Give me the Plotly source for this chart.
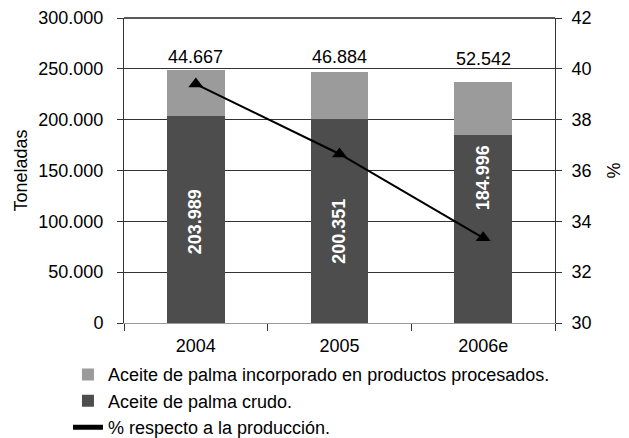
import plotly.graph_objects as go

years = ["2004", "2005", "2006e"]
crudo = [203989, 200351, 184996]
procesado = [44667, 46884, 52542]
crudo_labels = ["203.989", "200.351", "184.996"]
procesado_labels = ["44.667", "46.884", "52.542"]
porcentaje = [39.4, 36.65, 33.35]

# label placement (style only)
label_frac = [0.49, 0.45, 0.77]       # inside labels, fraction of dark bar height
top_shift = [13, 15, 23]              # top labels, pixels above the stack

FONT = "Liberation Sans, Arial, Helvetica, sans-serif"
DARK = "#4d4d4d"
LIGHT = "#9b9b9b"

fig = go.Figure()
fig.add_trace(go.Bar(
    x=years, y=crudo, name="Aceite de palma crudo.",
    marker=dict(color=DARK, line=dict(width=0)),
    legendgroup="b", legendrank=2,
))
fig.add_trace(go.Bar(
    x=years, y=procesado, name="Aceite de palma incorporado en productos procesados.",
    marker=dict(color=LIGHT, line=dict(width=0)),
    legendgroup="a", legendrank=1,
))
fig.add_trace(go.Scatter(
    x=years, y=porcentaje, yaxis="y2", mode="lines+markers",
    line=dict(color="black", width=2),
    marker=dict(symbol="triangle-up", size=13, color="black"),
    showlegend=False,
))
fig.add_trace(go.Scatter(
    x=[years[0]], y=[None], yaxis="y2", mode="lines",
    line=dict(color="black", width=5),
    name="% respecto a la producción.",
    legendgroup="c", legendrank=3,
))

annotations = []
for i, (c, p, clab, plab, fr, sh) in enumerate(
        zip(crudo, procesado, crudo_labels, procesado_labels, label_frac, top_shift)):
    annotations.append(dict(
        x=i, y=c * fr, xref="x", yref="y", text="<b>" + clab + "</b>",
        showarrow=False, textangle=-90,
        font=dict(color="white", size=18, family=FONT),
    ))
    annotations.append(dict(
        x=i, y=c + p, xref="x", yref="y", text=plab, yshift=sh,
        showarrow=False, font=dict(color="black", size=18, family=FONT),
    ))

fig.update_layout(
    width=621, height=430,
    margin=dict(l=116, r=74, t=10, b=115, autoexpand=False),
    paper_bgcolor="white", plot_bgcolor="white",
    barmode="stack", bargap=0.6,
    separators=",.",
    font=dict(family=FONT, size=18, color="black"),
    xaxis=dict(
        type="category", categoryorder="array", categoryarray=years,
        tickson="boundaries", ticks="outside", ticklen=7,
        tickcolor="#333", showline=True, linecolor="#999", linewidth=1,
        showgrid=False, tickfont=dict(size=18), ticklabelstandoff=6,
        range=[-0.5, 2.5],
    ),
    yaxis=dict(
        range=[0, 300000], dtick=50000, tickformat=",d",
        showgrid=True, gridcolor="#333", gridwidth=1,
        showline=True, linecolor="#333", linewidth=1,
        ticks="outside", ticklen=6, tickcolor="#333",
        zeroline=False, tickfont=dict(size=18), ticklabelstandoff=10,
        ticklabeloverflow="allow",
        title=dict(text="Toneladas", font=dict(size=18), standoff=6),
    ),
    yaxis2=dict(
        overlaying="y", side="right", range=[30, 42], dtick=2,
        showgrid=False, showline=True, linecolor="#333", linewidth=1,
        ticks="outside", ticklen=6, tickcolor="#333",
        zeroline=False, tickfont=dict(size=18), ticklabelstandoff=6,
        ticklabeloverflow="allow",
        title=dict(text="%", font=dict(size=18), standoff=16),
    ),
    legend=dict(
        x=-0.13, y=-0.109, xanchor="left", yanchor="top",
        traceorder="grouped", tracegroupgap=0,
        font=dict(size=18), bgcolor="rgba(0,0,0,0)",
        itemwidth=30,
    ),
    annotations=annotations,
    shapes=[dict(type="line", xref="paper", yref="paper", x0=0, x1=1, y0=1, y1=1,
                 line=dict(color="#222", width=1.5))],
)

fig.write_html("out.html")
